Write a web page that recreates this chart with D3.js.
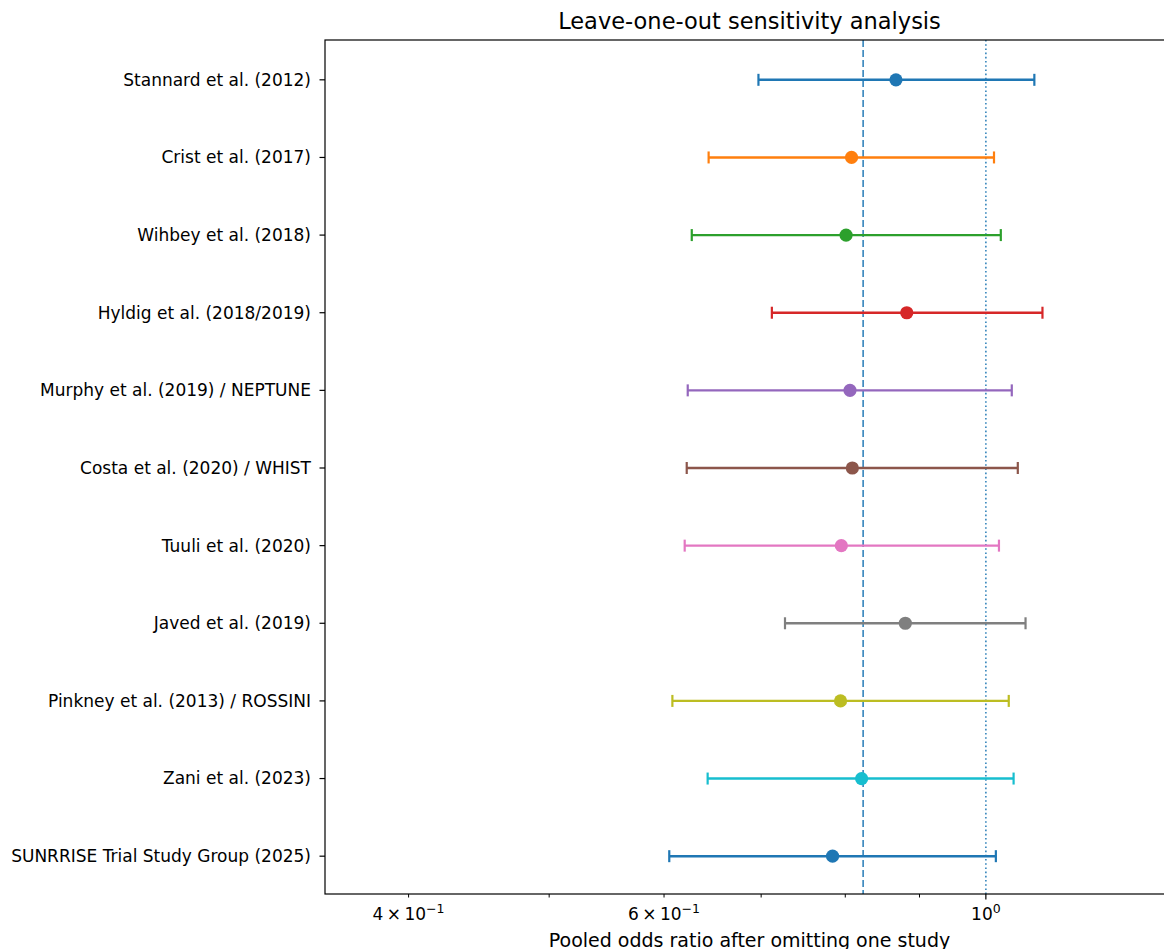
<!DOCTYPE html>
<html>
<head>
<meta charset="utf-8">
<script src="https://cdn.jsdelivr.net/npm/d3@7"></script>
<style>
  html, body { margin: 0; padding: 0; background: #fff; }
  svg { display: block; font-family: "DejaVu Sans", sans-serif; }
</style>
</head>
<body>
<svg id="chart" width="1164" height="949"></svg>
<script>
const studies = [
  "Stannard et al. (2012)",
  "Crist et al. (2017)",
  "Wihbey et al. (2018)",
  "Hyldig et al. (2018/2019)",
  "Murphy et al. (2019) / NEPTUNE",
  "Costa et al. (2020) / WHIST",
  "Tuuli et al. (2020)",
  "Javed et al. (2019)",
  "Pinkney et al. (2013) / ROSSINI",
  "Zani et al. (2023)",
  "SUNRRISE Trial Study Group (2025)"
];
const pooledOR = [0.867, 0.808, 0.801, 0.882, 0.806, 0.809, 0.795, 0.880, 0.794, 0.821, 0.784];
const lowerCI  = [0.697, 0.644, 0.627, 0.712, 0.623, 0.622, 0.620, 0.727, 0.608, 0.643, 0.605];
const upperCI  = [1.080, 1.013, 1.024, 1.094, 1.042, 1.052, 1.021, 1.065, 1.037, 1.045, 1.016];
const overallOR = 0.823;
const nullOR = 1.0;
const xLimits = [0.3503, 1.348];
const xMinorTicks = [0.4, 0.5, 0.6, 0.7, 0.8, 0.9];
const xMajorTicks = [1.0];
const xTickLabels = [{v: 0.4, m: "4", e: "−1"}, {v: 0.6, m: "6", e: "−1"}, {v: 1.0, m: null, e: "0"}];
const palette = ["#1f77b4","#ff7f0e","#2ca02c","#d62728","#9467bd","#8c564b","#e377c2","#7f7f7f","#bcbd22","#17becf"];

const title = "Leave-one-out sensitivity analysis";
const xTitle = "Pooled odds ratio after omitting one study";

const svg = d3.select("#chart");
const L = 325, R = 1174, T = 40, B = 894;

const x = d3.scaleLog().domain(xLimits).range([L, R]);
const y = d3.scaleLinear().domain([-0.5, studies.length - 0.5]).range([T + 1, B + 1]);

const data = studies.map((s, i) => ({s, i, p: pooledOR[i], lo: lowerCI[i], hi: upperCI[i], c: palette[i % palette.length]}));

const plot = svg.append("g");

// reference lines
plot.append("line")
  .attr("x1", x(overallOR)).attr("x2", x(overallOR))
  .attr("y1", T).attr("y2", B)
  .attr("stroke", "#1f77b4").attr("stroke-opacity", 0.85)
  .attr("stroke-width", 1.7).attr("stroke-dasharray", "7,3");
plot.append("line")
  .attr("x1", x(nullOR)).attr("x2", x(nullOR))
  .attr("y1", T).attr("y2", B)
  .attr("stroke", "#1f77b4").attr("stroke-opacity", 0.85)
  .attr("stroke-width", 1.7).attr("stroke-dasharray", "1.6,2.6");

// error bars
const g = plot.selectAll("g.row").data(data).enter().append("g").attr("class", "row");
g.append("line")
  .attr("x1", d => x(d.lo)).attr("x2", d => x(d.hi))
  .attr("y1", d => y(d.i)).attr("y2", d => y(d.i))
  .attr("stroke", d => d.c).attr("stroke-width", 2.4);
g.append("line")
  .attr("x1", d => x(d.lo)).attr("x2", d => x(d.lo))
  .attr("y1", d => y(d.i) - 6).attr("y2", d => y(d.i) + 6)
  .attr("stroke", d => d.c).attr("stroke-width", 2.2);
g.append("line")
  .attr("x1", d => x(d.hi)).attr("x2", d => x(d.hi))
  .attr("y1", d => y(d.i) - 6).attr("y2", d => y(d.i) + 6)
  .attr("stroke", d => d.c).attr("stroke-width", 2.2);
g.append("circle")
  .attr("cx", d => x(d.p)).attr("cy", d => y(d.i)).attr("r", 6.6)
  .attr("fill", d => d.c);

// axes frame
svg.append("rect")
  .attr("x", L).attr("y", T).attr("width", R - L).attr("height", B - T)
  .attr("fill", "none").attr("stroke", "#000").attr("stroke-width", 1.2);

// y ticks & labels
const yAxis = svg.append("g");
yAxis.selectAll("line").data(data).enter().append("line")
  .attr("x1", L - 5.5).attr("x2", L)
  .attr("y1", d => y(d.i)).attr("y2", d => y(d.i))
  .attr("stroke", "#000").attr("stroke-width", 1.2);
yAxis.selectAll("text").data(data).enter().append("text")
  .attr("x", L - 14).attr("y", d => y(d.i))
  .attr("dy", "0.35em").attr("text-anchor", "end")
  .attr("font-size", 17).attr("fill", "#000")
  .text(d => d.s);

// x ticks
const xAxis = svg.append("g");
xAxis.selectAll("line.minor").data(xMinorTicks).enter().append("line")
  .attr("class", "minor")
  .attr("x1", d => x(d)).attr("x2", d => x(d))
  .attr("y1", B).attr("y2", B + 3.5)
  .attr("stroke", "#000").attr("stroke-width", 1);
xAxis.selectAll("line.major").data(xMajorTicks).enter().append("line")
  .attr("class", "major")
  .attr("x1", d => x(d)).attr("x2", d => x(d))
  .attr("y1", B).attr("y2", B + 5.5)
  .attr("stroke", "#000").attr("stroke-width", 1.2);
const tl = xAxis.selectAll("text").data(xTickLabels).enter().append("text")
  .attr("x", d => x(d.v)).attr("y", B + 26)
  .attr("text-anchor", "middle").attr("font-size", 17).attr("fill", "#000");
tl.each(function(d) {
  const t = d3.select(this);
  if (d.m) t.append("tspan").text(d.m + "\u2009\u00d7\u2009");
  t.append("tspan").text("10");
  t.append("tspan").attr("dy", -7).attr("font-size", 12.5).text(d.e);
});

// titles
svg.append("text")
  .attr("x", (L + R) / 2).attr("y", 29)
  .attr("text-anchor", "middle").attr("font-size", 22.5).attr("fill", "#000")
  .text(title);
svg.append("text")
  .attr("x", (L + R) / 2).attr("y", 947)
  .attr("text-anchor", "middle").attr("font-size", 19).attr("fill", "#000")
  .text(xTitle);
</script>
</body>
</html>
